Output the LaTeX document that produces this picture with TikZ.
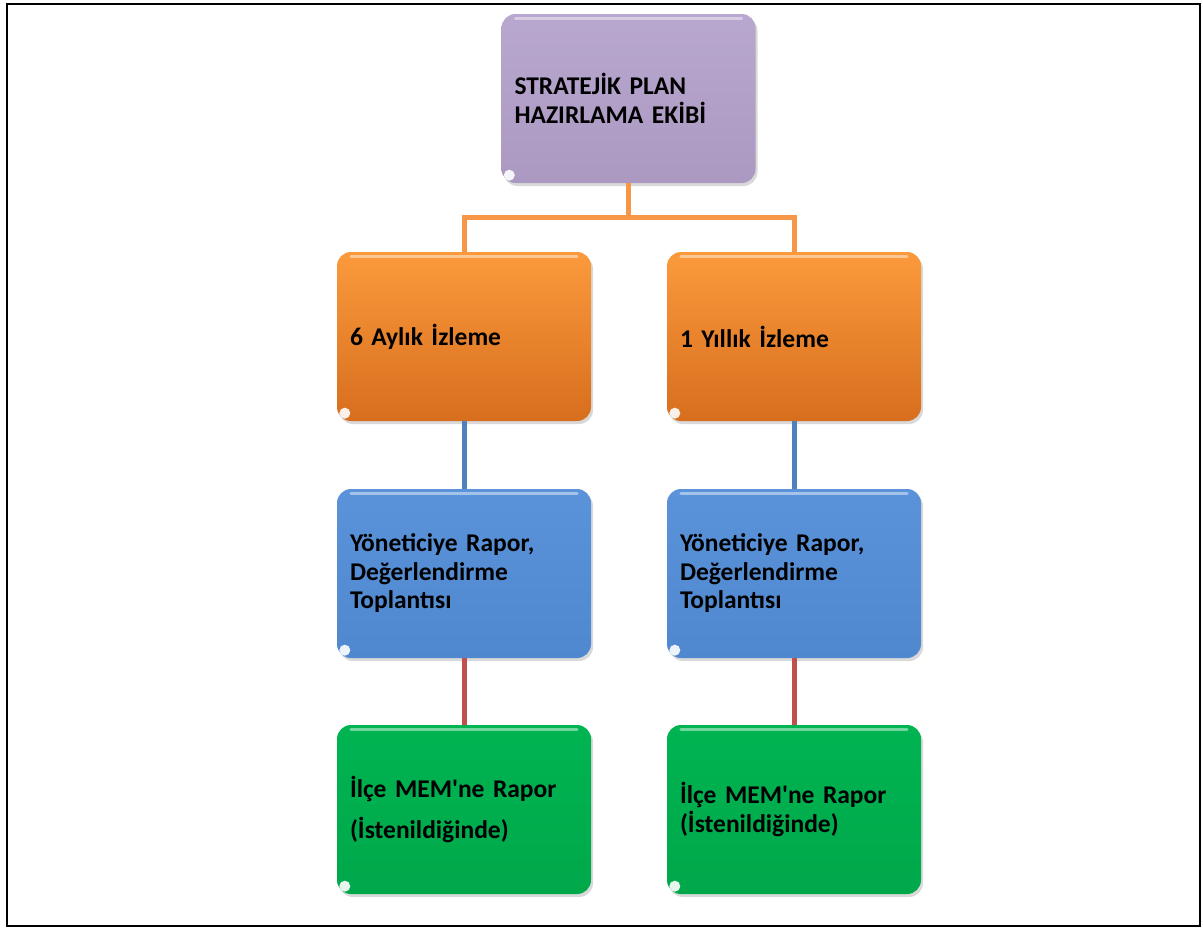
\documentclass[tikz,border=0pt]{standalone}
\usepackage{fontspec}
\setmainfont{Carlito}[Ligatures=TeXOff]
\usetikzlibrary{shadows}
\definecolor{frameblack}{HTML}{000000}
\definecolor{purpTop}{HTML}{B8A7CE}
\definecolor{purpBot}{HTML}{AB99C2}
\definecolor{orTop}{HTML}{FB9A3C}
\definecolor{orBot}{HTML}{D76E1E}
\definecolor{blTop}{HTML}{5A93DA}
\definecolor{blBot}{HTML}{4F88CE}
\definecolor{grTop}{HTML}{00B452}
\definecolor{grBot}{HTML}{00A84A}
\definecolor{lnOrange}{HTML}{F79646}
\definecolor{lnBlue}{HTML}{4F81BD}
\definecolor{lnRed}{HTML}{C0504D}
\tikzset{
  box/.style={rounded corners=14pt, minimum width=254pt, minimum height=169pt,
    text width=228pt, align=left, inner xsep=13pt, inner ysep=0pt,
    font=\fontsize{25.5}{28.5}\selectfont\bfseries, text=black,
    drop shadow={opacity=0.3, shadow xshift=2pt, shadow yshift=-3pt}},
  purplebox/.style={box, top color=purpTop, bottom color=purpBot},
  orangebox/.style={box, top color=orTop, bottom color=orBot},
  bluebox/.style={box, top color=blTop, bottom color=blBot},
  greenbox/.style={box, top color=grTop, bottom color=grBot},
  conn/.style={line width=5pt},
  gloss/.style={white, opacity=0.45, line width=3pt, line cap=round},
  cornerdot/.style={white, opacity=0.9},
}
\begin{document}
\begin{tikzpicture}[x=1pt,y=-1pt]
\useasboundingbox (0,0) rectangle (1203,929);
\draw[line width=2.5pt, frameblack] (7,4) rectangle (1200,926);

\node[purplebox] (top) at (628.5,98.5) {STRATEJİK PLAN\\HAZIRLAMA EKİBİ};
\node[orangebox] (o1) at (464,336.5) {6 Aylık İzleme};
\node[orangebox] (o2) at (794,336.5) {1 Yıllık İzleme};
\node[bluebox] (b1) at (464,573.5) {Yöneticiye Rapor,\\Değerlendirme\\Toplantısı};
\node[bluebox] (b2) at (794,573.5) {Yöneticiye Rapor,\\Değerlendirme\\Toplantısı};
\node[greenbox] (g1) at (464,809.5) {İlçe MEM'ne Rapor\\[13pt](İstenildiğinde)};
\node[greenbox] (g2) at (794,809.5) {İlçe MEM'ne Rapor\\(İstenildiğinde)};

\foreach \n in {top,o1,o2,b1,b2,g1,g2}{
  \draw[gloss] ([xshift=14pt,yshift=-5pt]\n.north west) -- ([xshift=-14pt,yshift=-5pt]\n.north east);
  \fill[cornerdot] ([xshift=8pt,yshift=8pt]\n.south west) circle[radius=5.5pt];
}

\draw[conn, lnOrange] (top.south) -- ++(0,34) coordinate (mid) -| (o1.north);
\draw[conn, lnOrange] (mid) -| (o2.north);
\draw[conn, lnBlue] (o1.south) -- (b1.north);
\draw[conn, lnBlue] (o2.south) -- (b2.north);
\draw[conn, lnRed] (b1.south) -- (g1.north);
\draw[conn, lnRed] (b2.south) -- (g2.north);
\end{tikzpicture}
\end{document}
